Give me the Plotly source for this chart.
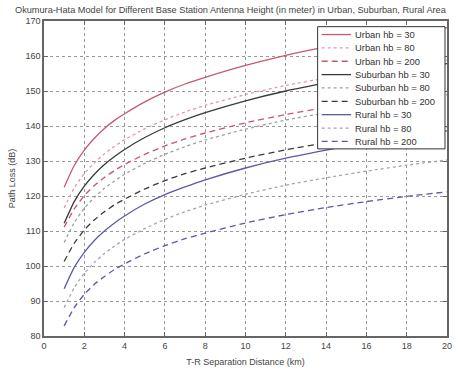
import plotly.graph_objects as go

# T-R separation distance (km)
distance_km = [1, 1.5, 2, 2.5, 3, 3.5, 4, 5, 6, 7, 8, 10, 12, 14, 16, 18, 20]

# Path loss (dB)
urban_30 = [122.5, 128.7, 133.1, 136.5, 139.3, 141.6, 143.5, 146.9, 149.7, 152.0, 153.9, 157.3, 160.2, 162.6, 164.7, 166.5, 168.1]
urban_80 = [116.6, 122.3, 126.4, 129.5, 132.1, 134.2, 136.1, 139.2, 141.8, 144.0, 145.9, 149.0, 151.6, 153.7, 155.6, 157.3, 158.8]
urban_200 = [111.1, 116.3, 120.1, 123.0, 125.3, 127.3, 129.0, 131.9, 134.3, 136.3, 138.0, 140.9, 143.3, 145.3, 147.0, 148.5, 149.9]
suburban_30 = [112.2, 118.4, 122.8, 126.2, 129.0, 131.3, 133.3, 136.7, 139.5, 141.8, 143.8, 147.2, 150.0, 152.3, 154.4, 156.2, 157.8]
suburban_80 = [106.7, 112.4, 116.5, 119.6, 122.2, 124.3, 126.2, 129.3, 131.9, 134.1, 136.0, 139.1, 141.7, 143.8, 145.7, 147.4, 148.9]
suburban_200 = [101.3, 106.5, 110.3, 113.2, 115.5, 117.5, 119.1, 122.0, 124.4, 126.4, 128.0, 130.8, 133.2, 135.2, 136.9, 138.4, 139.8]
rural_30 = [93.5, 99.6, 103.9, 107.3, 110.0, 112.3, 114.3, 117.7, 120.4, 122.6, 124.6, 128.0, 130.8, 133.1, 135.2, 137.0, 138.6]
rural_80 = [88.1, 93.8, 97.9, 101.0, 103.6, 105.7, 107.6, 110.7, 113.3, 115.5, 117.4, 120.5, 123.1, 125.2, 127.1, 128.8, 130.3]
rural_200 = [82.9, 88.1, 91.9, 94.8, 97.0, 99.0, 100.6, 103.5, 105.8, 107.8, 109.4, 112.3, 114.7, 116.7, 118.4, 119.9, 121.2]

x_ticks = [0, 2, 4, 6, 8, 10, 12, 14, 16, 18, 20]
y_ticks = [80, 90, 100, 110, 120, 130, 140, 150, 160, 170]

RED = "#c8576e"
BLACK = "#3a3a3a"
BLUE = "#5a5aa8"
RED_DOT = "#dc9aaa"
GRAY_DOT = "#a0a0a0"
BLUE_DOT = "#a4a4b4"

series = [
    ("Urban hb = 30", urban_30, RED, "solid"),
    ("Urban hb = 80", urban_80, RED_DOT, "dot"),
    ("Urban hb = 200", urban_200, RED, "6px,4px"),
    ("Suburban hb = 30", suburban_30, BLACK, "solid"),
    ("Suburban hb = 80", suburban_80, GRAY_DOT, "dot"),
    ("Suburban hb = 200", suburban_200, BLACK, "6px,4px"),
    ("Rural hb = 30", rural_30, BLUE, "solid"),
    ("Rural hb = 80", rural_80, BLUE_DOT, "dot"),
    ("Rural hb = 200", rural_200, BLUE, "6px,4px"),
]

fig = go.Figure()
for name, vals, color, dash in series:
    fig.add_trace(go.Scatter(
        x=distance_km, y=vals, mode="lines", name=name, showlegend=False,
        line=dict(color=color, width=1.3, dash=dash, shape="spline", smoothing=0.5),
    ))

# Compact MATLAB-style legend box (paper coordinates)
LEG_X0, LEG_X1 = 0.679, 0.995
LEG_Y0, LEG_Y1 = 0.594, 0.982
ENTRY_TOP, ENTRY_STEP = 0.957, 0.0424
SAMPLE_X0, SAMPLE_X1, TEXT_X = 0.689, 0.762, 0.767

shapes = [dict(type="rect", xref="paper", yref="paper",
               x0=LEG_X0, x1=LEG_X1, y0=LEG_Y0, y1=LEG_Y1,
               line=dict(color="#333333", width=1), fillcolor="white", layer="above")]
annotations = []
for i, (name, vals, color, dash) in enumerate(series):
    yy = ENTRY_TOP - i * ENTRY_STEP
    shapes.append(dict(type="line", xref="paper", yref="paper",
                       x0=SAMPLE_X0, x1=SAMPLE_X1, y0=yy, y1=yy,
                       line=dict(color=color, width=1.3, dash=dash), layer="above"))
    annotations.append(dict(xref="paper", yref="paper", x=TEXT_X, y=yy,
                            xanchor="left", yanchor="middle", showarrow=False,
                            text=name, font=dict(size=9.4, color="#333333")))

axis_common = dict(
    showline=True, linecolor="#666666", linewidth=1.5, mirror="allticks",
    ticks="inside", ticklen=4, tickcolor="#666666",
    showgrid=True, gridcolor="#999999", griddash="dot", gridwidth=1,
    zeroline=False, tickfont=dict(size=9, color="#444444"),
)

fig.update_layout(
    width=463, height=377,
    margin=dict(l=44, r=11, t=21, b=31),
    paper_bgcolor="white", plot_bgcolor="white",
    font=dict(family="Liberation Sans, Arial, sans-serif", size=9, color="#444444"),
    title=dict(
        text="Okumura-Hata Model for Different Base Station Antenna Height (in meter) in Urban, Suburban, Rural Area",
        x=15 / 463, xanchor="left", xref="container", y=1 - 10 / 377, yanchor="middle",
        font=dict(size=9.2, color="#444444"),
    ),
    xaxis=dict(range=[0, 20], tickvals=x_ticks,
               title=dict(text="T-R Separation Distance (km)", standoff=9, font=dict(size=9)),
               **axis_common),
    yaxis=dict(range=[80, 170], tickvals=y_ticks,
               title=dict(text="Path Loss (dB)", standoff=8, font=dict(size=9)),
               **axis_common),
    shapes=shapes,
    annotations=annotations,
    showlegend=False,
)

fig.write_html("out.html")
